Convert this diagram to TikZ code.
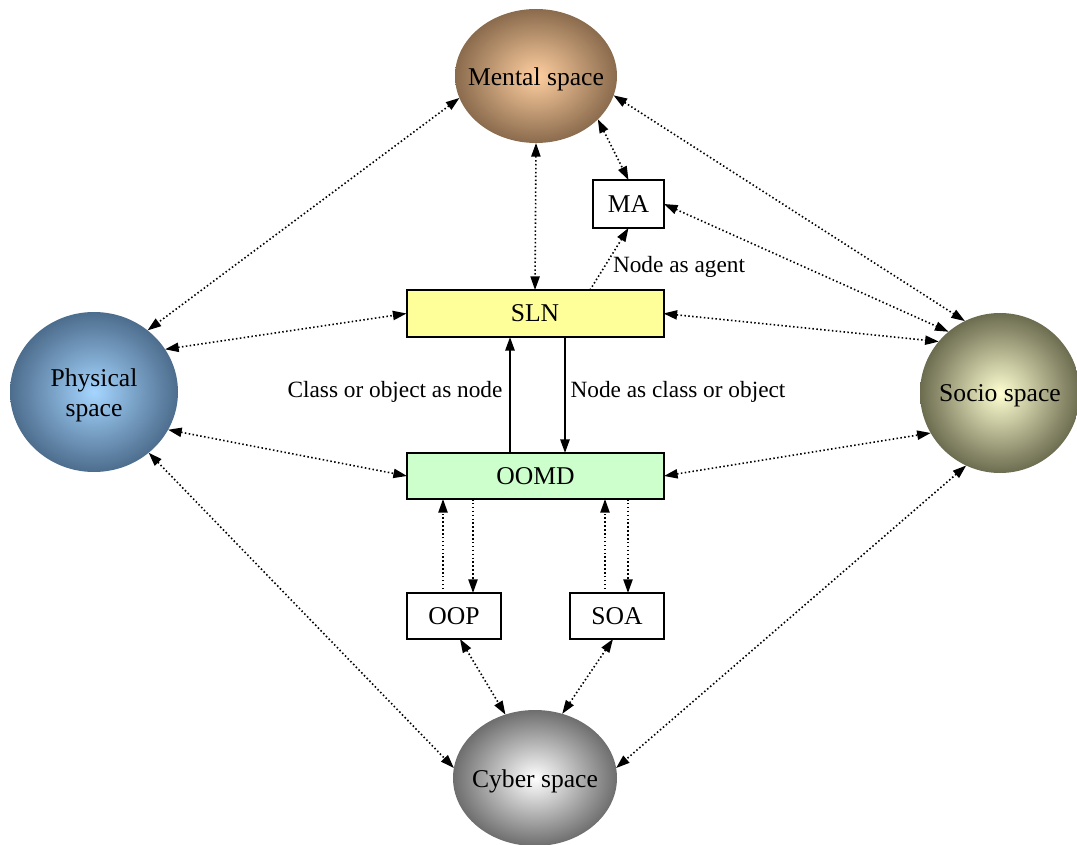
\documentclass[tikz,border=0pt]{standalone}
\usepackage{fontspec}
\setmainfont{Liberation Serif}
\usetikzlibrary{arrows.meta,shapes.geometric}

\definecolor{mentalIn}{HTML}{FFCFA0}
\definecolor{mentalOut}{HTML}{8A6B4D}
\definecolor{physIn}{HTML}{A5D5FF}
\definecolor{physOut}{HTML}{4D6D8D}
\definecolor{socioIn}{HTML}{FFFFD2}
\definecolor{socioOut}{HTML}{6C6C50}
\definecolor{cyberIn}{HTML}{FFFFFF}
\definecolor{cyberOut}{HTML}{6E6E6E}
\definecolor{slnFill}{HTML}{FFFF99}
\definecolor{oomdFill}{HTML}{CCFFCC}

\begin{document}
\begin{tikzpicture}[x=0.5pt,y=-0.5pt,
  ball/.style={ellipse, draw=none, inner sep=0pt, outer sep=0pt, shading=radial},
  balltext/.style={align=center, inner sep=0pt, yshift=-1.5pt,
    font=\fontsize{12.8}{15}\selectfont},
  box/.style={rectangle, draw=black, line width=1pt, inner sep=0pt, outer sep=0pt,
    font=\fontsize{12.8}{15}\selectfont},
  link/.style={line width=0.8pt, dash pattern=on 0.75pt off 1.2pt},
  both/.style={link, {Triangle[length=6.8pt,width=4.6pt]}-{Triangle[length=6.8pt,width=4.6pt]}},
  one/.style={link, -{Triangle[length=6.8pt,width=4.6pt]}},
  solidarrow/.style={line width=1pt, -{Triangle[length=6.8pt,width=4.6pt]}},
  elabel/.style={font=\fontsize{11.65}{13}\selectfont, inner sep=0pt}
]
\useasboundingbox (0,0) rectangle (1077,845);

% the four spaces
\node[ball, inner color=mentalIn, outer color=mentalOut,
      minimum width=81pt, minimum height=67pt,
      label={[balltext]center:Mental space}] (mental) at (536,76) {};
\node[ball, inner color=physIn, outer color=physOut,
      minimum width=84pt, minimum height=80pt,
      label={[balltext]center:Physical\\space}] (physical) at (94,392) {};
\node[ball, inner color=socioIn, outer color=socioOut,
      minimum width=80pt, minimum height=80pt,
      label={[balltext]center:Socio space}] (socio) at (1000,393) {};
\node[ball, inner color=cyberIn, outer color=cyberOut,
      minimum width=82pt, minimum height=68pt,
      label={[balltext]center:Cyber space}] (cyber) at (535,778) {};

% the boxes
\node[box, minimum width=35.5pt, minimum height=24pt] (ma) at (628.5,204) {MA};
\node[box, fill=slnFill, minimum width=128.5pt, minimum height=23.5pt] (sln) at (535,313.5) {SLN};
\node[box, fill=oomdFill, minimum width=128.5pt, minimum height=23pt] (oomd) at (535.5,476) {OOMD};
\node[box, minimum width=47pt, minimum height=23pt] (oop) at (454,616) {OOP};
\node[box, minimum width=47pt, minimum height=23pt] (soa) at (617,616) {SOA};

% links between the spaces and the boxes
\draw[both] (mental.196) -- (physical.49);
\draw[both] (mental.south) -- (sln.north);
\draw[both] (mental.-35) -- (ma.north);
\draw[both] (mental.-14) -- (socio.116);
\draw[both] (ma.east) -- (socio.130);
\draw[both] (sln.east) -- (socio.140);
\draw[both] (physical.31) -- (sln.west);
\draw[both] (physical.-27) -- (oomd.west);
\draw[both] (physical.-48) -- (cyber.173);
\draw[both] (oomd.east) -- (socio.210);
\draw[both] (socio.-115) -- (cyber.7);
\draw[both] ([xshift=3pt]oop.south) -- (cyber.115);
\draw[both] ([xshift=-2pt]soa.south) -- (cyber.67);

% SLN as agent
\draw[one] ([xshift=27.5pt]sln.north) -- (ma.south);
\node[elabel] (agentlbl) at (679,266.5) {Node as agent};

% SLN <-> OOMD
\draw[solidarrow] ([xshift=-12.75pt]oomd.north) -- ([xshift=-12.5pt]sln.south);
\draw[solidarrow] ([xshift=15pt]sln.south) -- ([xshift=14.75pt]oomd.north);
\node[elabel] (clslbl) at (395,391.5) {Class or object as node};
\node[elabel] (nodelbl) at (678,391.5) {Node as class or object};

% OOMD <-> OOP / SOA
\draw[one] ([xshift=-5.5pt]oop.north) -- ([xshift=-5.5pt]oop.north |- oomd.south);
\draw[one] ([xshift=9.5pt]oop.north |- oomd.south) -- ([xshift=9.5pt]oop.north);
\draw[one] ([xshift=-6pt]soa.north) -- ([xshift=-6pt]soa.north |- oomd.south);
\draw[one] ([xshift=5.5pt]soa.north |- oomd.south) -- ([xshift=5.5pt]soa.north);
\end{tikzpicture}
\end{document}
